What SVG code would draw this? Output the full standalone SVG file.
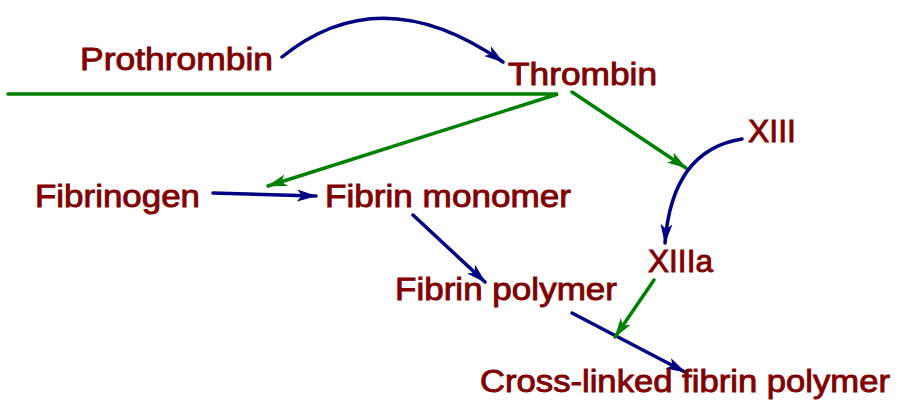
<svg xmlns="http://www.w3.org/2000/svg" width="910" height="404" viewBox="0 0 910 404">
<style>
.t{font-family:"Liberation Sans",Arial,sans-serif;font-size:32px;font-weight:normal;fill:#800000;stroke:#800000;stroke-width:0.9}
.b{fill:none;stroke:#000080;stroke-width:3.5;stroke-linecap:round}
.g{fill:none;stroke:#008000;stroke-width:3.5;stroke-linecap:round;stroke-linejoin:miter}
</style>
<defs>
<marker id="ab" markerUnits="userSpaceOnUse" markerWidth="20" markerHeight="14" viewBox="0 0 20 14" refX="19" refY="7" orient="auto"><path d="M0,1 L20,7 L0,13 L5,7 Z" fill="#000080"/></marker>
<marker id="ag" markerUnits="userSpaceOnUse" markerWidth="20" markerHeight="14" viewBox="0 0 20 14" refX="19" refY="7" orient="auto"><path d="M0,1 L20,7 L0,13 L5,7 Z" fill="#008000"/></marker>
</defs>
<g id="connectors">
<path class="b" d="M282,57 Q381,-23 503,62" marker-end="url(#ab)"/>
<path class="g" d="M8,94 L558,94 L268,186" marker-end="url(#ag)"/>
<path class="g" d="M572,92 L686,168" marker-end="url(#ag)"/>
<path class="b" d="M742,139 Q672,150 665,243" marker-end="url(#ab)"/>
<path class="b" d="M213,193 L316,196" marker-end="url(#ab)"/>
<path class="b" d="M413,215 L485,282" marker-end="url(#ab)"/>
<path class="b" d="M572,313 L685,372" marker-end="url(#ab)"/>
<path class="g" d="M654,280 L615,337" marker-end="url(#ag)"/>
</g>
<g id="prothrombin"><text class="t" x="80" y="70" textLength="193" lengthAdjust="spacingAndGlyphs">Prothrombin</text></g>
<g id="thrombin"><text class="t" x="508" y="85" textLength="149" lengthAdjust="spacingAndGlyphs">Thrombin</text></g>
<g id="fibrinogen"><text class="t" x="35" y="207" textLength="165" lengthAdjust="spacingAndGlyphs">Fibrinogen</text></g>
<g id="fibrin-monomer"><text class="t" x="325" y="207" textLength="246" lengthAdjust="spacingAndGlyphs">Fibrin monomer</text></g>
<g id="xiii"><text class="t" x="748" y="142" textLength="48" lengthAdjust="spacingAndGlyphs">XIII</text></g>
<g id="xiiia"><text class="t" x="648" y="272" textLength="65" lengthAdjust="spacingAndGlyphs">XIIIa</text></g>
<g id="fibrin-polymer"><text class="t" x="395" y="300" textLength="222" lengthAdjust="spacingAndGlyphs">Fibrin polymer</text></g>
<g id="cross-linked"><text class="t" x="480" y="392" textLength="410" lengthAdjust="spacingAndGlyphs">Cross-linked fibrin polymer</text></g>
</svg>
